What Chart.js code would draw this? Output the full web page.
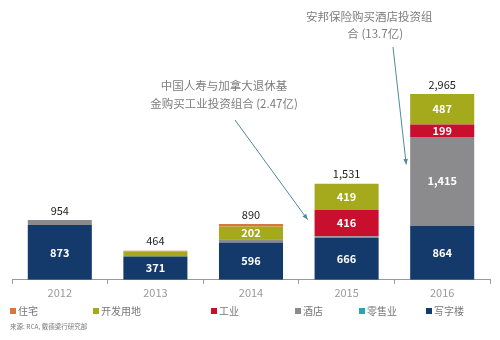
<!DOCTYPE html>
<html>
<head>
<meta charset="utf-8">
<script src="https://cdn.jsdelivr.net/npm/chart.js@4/dist/chart.umd.min.js"></script>
<style>
  html, body { margin: 0; padding: 0; background: #fff; }
  #wrap { position: relative; width: 500px; height: 340px; }
</style>
</head>
<body>
<div id="wrap"><canvas id="chart" width="500" height="340"></canvas></div>
<script>
// categories and series (stack order, bottom first)
const years = ["2012", "2013", "2014", "2015", "2016"];
const office = [873, 371, 596, 666, 864];       // 写字楼
const retail = [0, 0, 0, 0, 0];                 // 零售业
const hotel = [81, 0, 52, 30, 1415];            // 酒店
const industrial = [0, 0, 0, 416, 199];         // 工业
const landDev = [0, 81, 202, 419, 487];         // 开发用地
const residential = [0, 12, 40, 0, 0];          // 住宅
const totals = [954, 464, 890, 1531, 2965];

const seriesNames = ["写字楼", "零售业", "酒店", "工业", "开发用地", "住宅"];
const seriesData = [office, retail, hotel, industrial, landDev, residential];
const seriesColors = ["#133a6a", "#2ba3b3", "#8b8b8d", "#c8102e", "#a4aa1c", "#d8763c"];

const notes = [
  ["中国人寿与加拿大退休基", "金购买工业投资组合 (2.47亿)"],
  ["安邦保险购买酒店投资组", "合 (13.7亿)"]
];

const FONT = "'Noto Sans CJK SC', 'Noto Sans', sans-serif";
const fmt = v => v.toLocaleString("en-US");

const labelsPlugin = {
  id: "labels",
  afterDatasetsDraw(chart) {
    const ctx = chart.ctx;
    ctx.save();
    ctx.textAlign = "center";
    ctx.textBaseline = "middle";
    // values inside segments
    ctx.font = "bold 11px " + FONT;
    ctx.fillStyle = "#ffffff";
    chart.data.datasets.forEach((ds, i) => {
      const meta = chart.getDatasetMeta(i);
      meta.data.forEach((bar, j) => {
        const v = ds.data[j];
        if (v < 150) return;
        ctx.fillText(fmt(v), bar.x, (bar.y + bar.base) / 2);
      });
    });
    // totals above bars
    const x = chart.scales.x, y = chart.scales.y;
    ctx.font = "11px " + FONT;
    ctx.fillStyle = "#222";
    ctx.textBaseline = "bottom";
    totals.forEach((t, j) => {
      ctx.fillText(fmt(t), x.getPixelForValue(j), y.getPixelForValue(t) - 4);
    });

    // annotations
    ctx.font = "11.5px " + FONT;
    ctx.fillStyle = "#7d7d7d";
    ctx.textBaseline = "middle";
    const n1x = x.getPixelForValue(2) - 27, n2x = x.getPixelForValue(4) - 73;
    notes[0].forEach((s, k) => ctx.fillText(s, n1x, 86 + k * 18));
    ctx.fillText(notes[1][0], n2x, 17);
    ctx.fillText(notes[1][1], n2x + 6, 34);

    const arrow = (x0, y0, x1, y1) => {
      ctx.strokeStyle = "#4d8a9c";
      ctx.fillStyle = "#4d8a9c";
      ctx.lineWidth = 1;
      ctx.beginPath(); ctx.moveTo(x0, y0); ctx.lineTo(x1, y1); ctx.stroke();
      const a = Math.atan2(y1 - y0, x1 - x0), L = 6;
      ctx.beginPath();
      ctx.moveTo(x1, y1);
      ctx.lineTo(x1 - L * Math.cos(a - 0.4), y1 - L * Math.sin(a - 0.4));
      ctx.lineTo(x1 - L * Math.cos(a + 0.4), y1 - L * Math.sin(a + 0.4));
      ctx.closePath(); ctx.fill();
    };
    arrow(235, 120, x.getPixelForValue(3) - 39, y.getPixelForValue(960));
    arrow(393, 47, x.getPixelForValue(4) - 36, y.getPixelForValue(1840));

    // legend (reverse of stack order)
    const legendX = [10, 93, 211, 295, 359, 426];
    ctx.font = "10px " + FONT;
    ctx.textAlign = "left";
    for (let k = 0; k < seriesNames.length; k++) {
      const idx = seriesNames.length - 1 - k;
      ctx.fillStyle = seriesColors[idx];
      ctx.fillRect(legendX[k], 308, 6, 6);
      ctx.fillStyle = "#777";
      ctx.fillText(seriesNames[idx], legendX[k] + 8, 311);
    }
    ctx.font = "6.5px " + FONT;
    ctx.fillStyle = "#777";
    ctx.fillText("来源: RCA, 戴德梁行研究部", 10, 327);
    ctx.restore();
  }
};

new Chart(document.getElementById("chart"), {
  type: "bar",
  data: {
    labels: years,
    datasets: seriesNames.map((name, i) => ({
      label: name,
      data: seriesData[i],
      backgroundColor: seriesColors[i],
      borderWidth: 0,
      barPercentage: 0.67,
      categoryPercentage: 1
    }))
  },
  options: {
    responsive: false,
    animation: false,
    layout: { padding: { top: 29, left: 12, right: 10, bottom: 39 } },
    plugins: { legend: { display: false }, tooltip: { enabled: false } },
    scales: {
      x: {
        stacked: true,
        grid: { drawOnChartArea: false, drawTicks: true, tickLength: 4, color: "#999", offset: true },
        border: { color: "#999" },
        ticks: { color: "#9a9a9a", font: { family: FONT, size: 11 }, padding: 2 }
      },
      y: { stacked: true, display: false, min: 0, max: 4000 }
    }
  },
  plugins: [labelsPlugin]
});
</script>
</body>
</html>
